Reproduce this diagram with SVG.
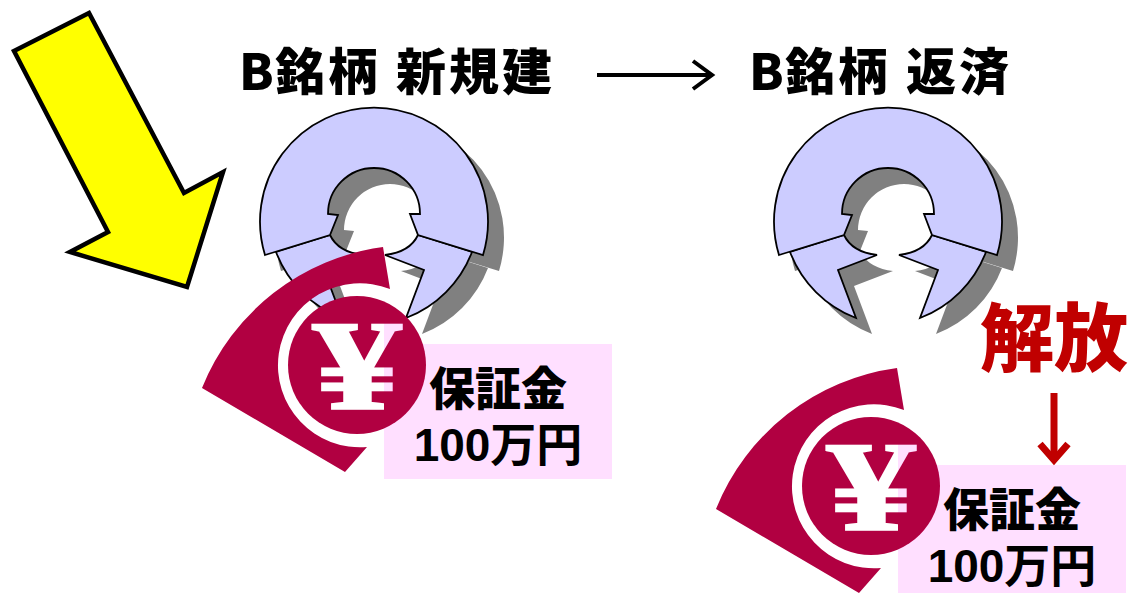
<svg xmlns="http://www.w3.org/2000/svg" width="1128" height="593" viewBox="0 0 1128 593">
<style>
.title{font-family:"Noto Sans CJK JP","Noto Sans",sans-serif;font-weight:900;font-size:50px;fill:#000}
.cjk{letter-spacing:3px}
.lbl1{font-family:"Noto Sans CJK JP","Noto Sans",sans-serif;font-weight:900;font-size:46px;fill:#000;text-anchor:middle}
.lbl2{font-family:"Liberation Sans","Noto Sans CJK JP",sans-serif;font-weight:bold;font-size:46px;fill:#000;text-anchor:middle}
.ring{fill:#CCCCFF;stroke:#000;stroke-width:1.8;stroke-linejoin:miter}
.shadow{fill:#808080}
.fan{fill:#B10041}
.box{fill:#FFDFFF}
.yen{font-family:"Liberation Serif",serif;font-weight:bold;font-size:126px;text-anchor:middle;stroke-width:2.5}
</style>
<defs>
<linearGradient id="yenFill" gradientUnits="userSpaceOnUse" x1="300" y1="0" x2="420" y2="0">
<stop offset="0.636" stop-color="#FFFFFF"/>
<stop offset="0.636" stop-color="#FFDFFF"/>
</linearGradient>
</defs>

<!-- big yellow arrow -->
<g id="yellow-arrow">
<polygon points="14,51 89,13 184,193 223,172 187,287 70,252 108,232" fill="#FFFF00" stroke="#000" stroke-width="4.5" stroke-linejoin="miter"/>
</g>

<!-- titles -->
<g id="title-left"><text class="title" y="90"><tspan x="239">B</tspan><tspan class="cjk" x="275">銘柄</tspan><tspan class="cjk" x="396">新規建</tspan></text></g>
<g id="title-right"><text class="title" y="90"><tspan x="749">B</tspan><tspan class="cjk" x="785">銘柄</tspan><tspan class="cjk" x="906">返済</tspan></text></g>

<!-- left ring (B銘柄 新規建) -->
<g id="ring-left" transform="translate(-514,0)">
<g class="shadow" transform="translate(16,16)">
<path d="M779,255 L844,235 L852,215 L842,214 A46,46 0 0 1 934,214 L924,214 L932,235 L997,255 A114,114 0 1 0 779,255 Z"/>
<path d="M790,252 L844,235 Q852,252 877,255 L838,270 L856,318 A114,114 0 0 1 790,252 Z"/>
<path d="M986,252 L932,235 Q924,252 899,255 L938,270 L920,318 A114,114 0 0 0 986,252 Z"/>
</g>
<path class="ring" d="M790,252 L844,235 Q852,252 877,255 L838,270 L856,318 A114,114 0 0 1 790,252 Z"/>
<path class="ring" d="M986,252 L932,235 Q924,252 899,255 L938,270 L920,318 A114,114 0 0 0 986,252 Z"/>
<path class="ring" d="M779,255 L844,235 L852,215 L842,214 A46,46 0 0 1 934,214 L924,214 L932,235 L997,255 A114,114 0 1 0 779,255 Z"/>
</g>

<!-- right ring (B銘柄 返済) -->
<g id="ring-right">
<g class="shadow" transform="translate(16,16)">
<path d="M779,255 L844,235 L852,215 L842,214 A46,46 0 0 1 934,214 L924,214 L932,235 L997,255 A114,114 0 1 0 779,255 Z"/>
<path d="M790,252 L844,235 Q852,252 877,255 L838,270 L856,318 A114,114 0 0 1 790,252 Z"/>
<path d="M986,252 L932,235 Q924,252 899,255 L938,270 L920,318 A114,114 0 0 0 986,252 Z"/>
</g>
<path class="ring" d="M790,252 L844,235 Q852,252 877,255 L838,270 L856,318 A114,114 0 0 1 790,252 Z"/>
<path class="ring" d="M986,252 L932,235 Q924,252 899,255 L938,270 L920,318 A114,114 0 0 0 986,252 Z"/>
<path class="ring" d="M779,255 L844,235 L852,215 L842,214 A46,46 0 0 1 934,214 L924,214 L932,235 L997,255 A114,114 0 1 0 779,255 Z"/>
</g>

<!-- left margin -->
<g id="margin-left">
<rect class="box" x="384" y="344" width="228" height="135"/>
<path class="fan" d="M202,388 A228,228 0 0 1 383,247 L390,289 A82,82 0 1 0 367,447 L345,472 Z"/>
<circle class="fan" cx="357" cy="365" r="69"/>
<text class="yen" x="357" y="408" fill="url(#yenFill)" stroke="url(#yenFill)" transform="translate(357,0) scale(1.4,1) translate(-357,0)">¥</text>
<text class="lbl1" x="498" y="405">保証金</text>
<text class="lbl2" x="498" y="461">100万円</text>
</g>

<!-- right margin -->
<g id="margin-right" transform="translate(514,121)">
<rect class="box" x="384" y="344" width="228" height="135"/>
<path class="fan" d="M202,388 A228,228 0 0 1 383,247 L390,289 A82,82 0 1 0 367,447 L345,472 Z"/>
<circle class="fan" cx="357" cy="365" r="69"/>
<text class="yen" x="357" y="408" fill="url(#yenFill)" stroke="url(#yenFill)" transform="translate(357,0) scale(1.4,1) translate(-357,0)">¥</text>
<text class="lbl1" x="498" y="405">保証金</text>
<text class="lbl2" x="498" y="461">100万円</text>
</g>

<!-- release label -->
<g id="release">
<text x="1054" y="365" style="font-family:'Noto Sans CJK JP','Noto Sans',sans-serif;font-weight:900;font-size:74px;fill:#C00000;text-anchor:middle">解放</text>
</g>

<!-- connectors -->
<g id="connectors" fill="none" stroke-linecap="butt" stroke-linejoin="miter">
<g id="arrow-top" stroke="#000" stroke-width="4">
<line x1="597" y1="75" x2="710" y2="75"/>
<polyline points="693,61 712,75 693,89"/>
</g>
<g id="arrow-release" stroke="#C00000" stroke-width="7">
<line x1="1054" y1="393" x2="1054" y2="458"/>
<polyline points="1040,444 1054,460 1068,444"/>
</g>
</g>
</svg>
